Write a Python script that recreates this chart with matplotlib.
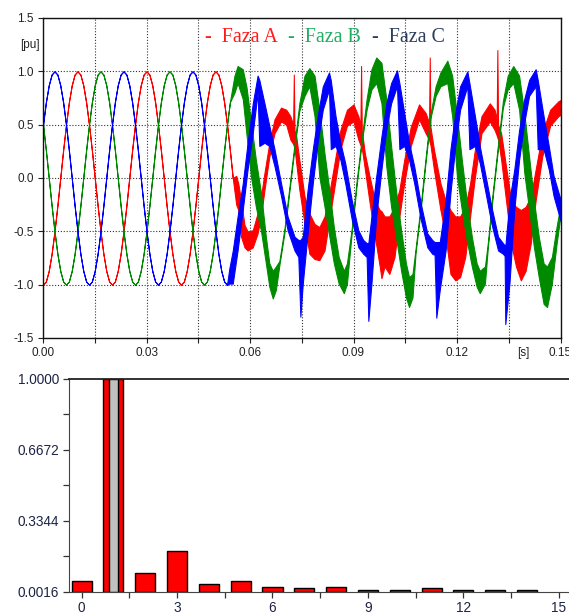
import numpy as np
import matplotlib
matplotlib.use("Agg")
import matplotlib.pyplot as plt
from matplotlib.transforms import blended_transform_factory

plt.rcParams['font.family'] = ['Liberation Sans', 'DejaVu Sans']
plt.rcParams['axes.unicode_minus'] = False

# ---------------- top chart data ----------------
# undistorted part, one value every 1/1200 s from t = 0
red_clean = [-1.00, -0.97, -0.87, -0.71, -0.50, -0.26, 0.00, 0.26, 0.50, 0.71, 0.87, 0.97,
             1.00, 0.97, 0.87, 0.71, 0.50, 0.26, 0.00, -0.26, -0.50, -0.71, -0.87, -0.97,
             -1.00, -0.97, -0.87, -0.71, -0.50, -0.26, 0.00, 0.26, 0.50, 0.71, 0.87, 0.97,
             1.00, 0.97, 0.87, 0.71, 0.50, 0.26, 0.00, -0.26, -0.50, -0.71, -0.87, -0.97,
             -1.00, -0.97, -0.87, -0.71, -0.50, -0.26, 0.00, 0.26, 0.50, 0.71, 0.87, 0.97,
             1.00, 0.97, 0.87, 0.71, 0.50, 0.26, 0.00]
green_clean = [0.50, 0.26, 0.00, -0.26, -0.50, -0.71, -0.87, -0.97, -1.00, -0.97, -0.87, -0.71,
               -0.50, -0.26, 0.00, 0.26, 0.50, 0.71, 0.87, 0.97, 1.00, 0.97, 0.87, 0.71,
               0.50, 0.26, 0.00, -0.26, -0.50, -0.71, -0.87, -0.97, -1.00, -0.97, -0.87, -0.71,
               -0.50, -0.26, 0.00, 0.26, 0.50, 0.71, 0.87, 0.97, 1.00, 0.97, 0.87, 0.71,
               0.50, 0.26, 0.00, -0.26, -0.50, -0.71, -0.87, -0.97, -1.00, -0.97, -0.87, -0.71,
               -0.50, -0.26, 0.00, 0.26, 0.50, 0.71]
blue_clean = [0.50, 0.71, 0.87, 0.97, 1.00, 0.97, 0.87, 0.71, 0.50, 0.26, 0.00, -0.26,
              -0.50, -0.71, -0.87, -0.97, -1.00, -0.97, -0.87, -0.71, -0.50, -0.26, 0.00, 0.26,
              0.50, 0.71, 0.87, 0.97, 1.00, 0.97, 0.87, 0.71, 0.50, 0.26, 0.00, -0.26,
              -0.50, -0.71, -0.87, -0.97, -1.00, -0.97, -0.87, -0.71, -0.50, -0.26, 0.00, 0.26,
              0.50, 0.71, 0.87, 0.97, 1.00, 0.97, 0.87, 0.71, 0.50, 0.26, 0.00, -0.26,
              -0.50, -0.71, -0.87, -0.97, -1.00]

# distorted part: time [s], lower and upper envelope of the noisy band [pu]
red_t = [0.0560, 0.0566, 0.0574, 0.0584, 0.0593, 0.0608, 0.0622, 0.0632, 0.0642, 0.0656,
         0.0671, 0.0690, 0.0705, 0.0717, 0.0725, 0.0727, 0.0729, 0.0734, 0.0743, 0.0758,
         0.0772, 0.0787, 0.0801, 0.0816, 0.0830, 0.0848, 0.0862, 0.0881, 0.0900, 0.0914,
         0.0920, 0.0922, 0.0924, 0.0933, 0.0947, 0.0962, 0.0976, 0.0981, 0.0990, 0.1004,
         0.1019, 0.1033, 0.1047, 0.1066, 0.1090, 0.1109, 0.1119, 0.1121, 0.1123, 0.1133,
         0.1152, 0.1167, 0.1181, 0.1195, 0.1209, 0.1224, 0.1238, 0.1252, 0.1271, 0.1295,
         0.1309, 0.1315, 0.1317, 0.1319, 0.1328, 0.1342, 0.1357, 0.1371, 0.1385, 0.1399,
         0.1414, 0.1428, 0.1447, 0.1470, 0.1494, 0.1500]
red_lo = [-0.25, -0.30, -0.55, -0.65, -0.68, -0.65, -0.52, -0.36, -0.11, 0.20,
          0.42, 0.53, 0.50, 0.36, 0.32, 0.30, 0.28, 0.14, -0.11, -0.43,
          -0.71, -0.76, -0.77, -0.68, -0.39, -0.02, 0.27, 0.49, 0.53, 0.36,
          0.31, 0.30, 0.28, 0.08, -0.24, -0.55, -0.83, -0.94, -0.83, -0.90,
          -0.74, -0.36, -0.05, 0.30, 0.55, 0.42, 0.36, 0.33, 0.31, 0.08,
          -0.30, -0.55, -0.90, -0.96, -0.93, -0.74, -0.36, 0.01, 0.42, 0.53,
          0.45, 0.40, 0.38, 0.36, 0.17, -0.21, -0.62, -0.83, -0.96, -0.87,
          -0.61, -0.21, 0.20, 0.49, 0.58, 0.59]
red_hi = [0.02, -0.05, -0.21, -0.44, -0.50, -0.49, -0.33, -0.17, 0.05, 0.33,
          0.55, 0.66, 0.64, 0.58, 0.50, 0.97, 0.45, 0.39, 0.17, -0.17,
          -0.33, -0.43, -0.46, -0.36, -0.14, 0.20, 0.45, 0.64, 0.69, 0.58,
          0.50, 1.05, 0.45, 0.23, 0.01, -0.21, -0.30, -0.31, -0.36, -0.36,
          -0.27, -0.11, 0.17, 0.48, 0.69, 0.61, 0.52, 1.13, 0.48, 0.27,
          -0.05, -0.21, -0.30, -0.36, -0.36, -0.27, -0.05, 0.27, 0.58, 0.70,
          0.64, 0.55, 1.20, 0.50, 0.42, 0.11, -0.21, -0.27, -0.30, -0.27,
          -0.17, 0.08, 0.42, 0.64, 0.72, 0.73]

green_t = [0.0555, 0.0564, 0.0579, 0.0590, 0.0603, 0.0617, 0.0632, 0.0646, 0.0656, 0.0666,
           0.0675, 0.0685, 0.0700, 0.0714, 0.0729, 0.0743, 0.0758, 0.0772, 0.0787, 0.0801,
           0.0816, 0.0830, 0.0843, 0.0857, 0.0872, 0.0881, 0.0895, 0.0909, 0.0924, 0.0938,
           0.0952, 0.0966, 0.0981, 0.0995, 0.1009, 0.1023, 0.1038, 0.1052, 0.1061, 0.1071,
           0.1080, 0.1095, 0.1109, 0.1123, 0.1138, 0.1152, 0.1172, 0.1186, 0.1200, 0.1214,
           0.1228, 0.1243, 0.1257, 0.1266, 0.1281, 0.1290, 0.1304, 0.1319, 0.1333, 0.1347,
           0.1363, 0.1380, 0.1395, 0.1409, 0.1423, 0.1437, 0.1451, 0.1461, 0.1475, 0.1489,
           0.1500]
green_lo = [0.80, 0.89, 0.74, 0.40, 0.01, -0.27, -0.50, -0.80, -1.02, -1.13,
            -1.05, -0.82, -0.51, -0.13, 0.28, 0.63, 0.77, 0.86, 0.58, 0.01,
            -0.27, -0.55, -0.80, -0.99, -1.08, -0.99, -0.51, -0.07, 0.34, 0.64,
            0.83, 0.89, 0.70, 0.11, -0.27, -0.55, -0.87, -1.12, -1.21, -1.12,
            -0.70, -0.29, 0.15, 0.56, 0.77, 0.86, 0.89, 0.58, 0.01, -0.30,
            -0.58, -0.83, -1.02, -1.08, -0.99, -0.63, -0.16, 0.28, 0.66, 0.83,
            0.89, 0.64, 0.05, -0.30, -0.65, -0.93, -1.18, -1.21, -0.99, -0.61,
            -0.35]
green_hi = [0.96, 1.05, 1.02, 0.85, 0.52, 0.17, -0.14, -0.55, -0.80, -0.87,
            -0.83, -0.78, -0.47, -0.09, 0.32, 0.70, 0.96, 1.03, 0.96, 0.64,
            0.23, -0.11, -0.46, -0.74, -0.87, -0.80, -0.47, -0.03, 0.38, 0.74,
            1.02, 1.13, 1.08, 0.74, 0.30, -0.11, -0.49, -0.80, -0.93, -0.90,
            -0.66, -0.25, 0.19, 0.60, 0.86, 0.99, 1.10, 0.96, 0.58, 0.17,
            -0.21, -0.55, -0.80, -0.87, -0.83, -0.59, -0.12, 0.32, 0.72, 0.96,
            1.05, 0.96, 0.61, 0.20, -0.21, -0.55, -0.80, -0.83, -0.74, -0.45,
            -0.25]

blue_t = [0.0540, 0.0550, 0.0564, 0.0579, 0.0593, 0.0608, 0.0622, 0.0627, 0.0642, 0.0656,
          0.0671, 0.0690, 0.0709, 0.0729, 0.0740, 0.0746, 0.0753, 0.0767, 0.0782, 0.0796,
          0.0811, 0.0829, 0.0834, 0.0848, 0.0862, 0.0876, 0.0895, 0.0914, 0.0928, 0.0938,
          0.0943, 0.0952, 0.0966, 0.0981, 0.0995, 0.1009, 0.1026, 0.1033, 0.1047, 0.1061,
          0.1076, 0.1095, 0.1114, 0.1128, 0.1135, 0.1140, 0.1150, 0.1167, 0.1181, 0.1195,
          0.1209, 0.1230, 0.1236, 0.1252, 0.1266, 0.1281, 0.1300, 0.1319, 0.1333, 0.1338,
          0.1340, 0.1352, 0.1366, 0.1380, 0.1395, 0.1409, 0.1428, 0.1434, 0.1451, 0.1466,
          0.1480, 0.1500]
blue_lo = [-0.99, -0.99, -0.68, -0.30, 0.08, 0.42, 0.80, 0.30, 0.33, 0.30,
           0.11, -0.17, -0.49, -0.68, -0.74, -1.30, -0.99, -0.52, -0.05, 0.33,
           0.64, 0.83, 0.27, 0.30, 0.17, -0.05, -0.39, -0.65, -0.71, -0.74,
           -1.34, -0.99, -0.36, 0.08, 0.45, 0.70, 0.86, 0.27, 0.30, 0.17,
           -0.05, -0.39, -0.65, -0.71, -0.72, -1.31, -1.05, -0.68, -0.14, 0.30,
           0.64, 0.86, 0.27, 0.30, 0.14, -0.11, -0.43, -0.68, -0.71, -0.73,
           -1.37, -0.99, -0.30, 0.17, 0.52, 0.77, 0.86, 0.27, 0.27, 0.08,
           -0.17, -0.40]
blue_hi = [-0.85, -0.68, -0.36, -0.05, 0.33, 0.70, 0.96, 0.92, 0.70, 0.49,
           0.27, -0.05, -0.36, -0.55, -0.58, -0.58, -0.55, -0.11, 0.27, 0.58,
           0.86, 0.99, 0.92, 0.58, 0.33, 0.14, -0.21, -0.49, -0.58, -0.61,
           -0.61, -0.36, 0.02, 0.39, 0.70, 0.89, 1.01, 0.89, 0.61, 0.33,
           0.11, -0.24, -0.52, -0.58, -0.60, -0.60, -0.60, -0.21, 0.27, 0.61,
           0.86, 1.00, 0.89, 0.58, 0.30, 0.05, -0.27, -0.55, -0.61, -0.63,
           -0.64, -0.21, 0.08, 0.45, 0.74, 0.92, 1.02, 0.92, 0.58, 0.30,
           0.02, -0.20]

x_tick_labels = ['0.00', '', '0.03', '', '0.06', '', '0.09', '', '0.12', '', '0.15']
y_tick_values = [-1.5, -1.0, -0.5, 0.0, 0.5, 1.0, 1.5]
y_tick_labels = ['-1.5', '-1.0', '-0.5', '0.0', '0.5', '1.0', '1.5']
legend_labels = ['Faza A', 'Faza B', 'Faza C']

# ---------------- bottom chart data ----------------
harmonics = list(range(15))
harm_values = [0.050, 1.000, 0.090, 0.190, 0.037, 0.050, 0.025, 0.017,
               0.025, 0.010, 0.010, 0.017, 0.010, 0.010, 0.010]
fund_gray = 1.000
hx_tick_labels = ['0', '', '3', '', '6', '', '9', '', '12', '', '15']
hy_tick_values = [0.0016, 0.1680, 0.3344, 0.5008, 0.6672, 0.8336, 1.0000]
hy_tick_labels = ['0.0016', '', '0.3344', '', '0.6672', '', '1.0000']

# ---------------- figure ----------------
W, H = 569, 615
fig = plt.figure(figsize=(W / 100, H / 100), dpi=100)


def rect(l, t, r, b):
    return [l / W, 1 - b / H, (r - l) / W, (b - t) / H]


ax1 = fig.add_axes(rect(43, 18, 560.5, 338))
ax1.set_xlim(0, 0.15)
ax1.set_ylim(-1.5, 1.5)

phases = [
    (red_clean, red_t, red_lo, red_hi, '#ff0000'),
    (green_clean, green_t, green_lo, green_hi, '#008a00'),
    (blue_clean, blue_t, blue_lo, blue_hi, '#0000ff'),
]
for clean, tn, lo, hi, col in phases:
    t_all = np.concatenate([np.arange(len(clean)) / 1200.0, tn])
    lo_all = np.concatenate([clean, lo])
    hi_all = np.concatenate([clean, hi])
    ax1.fill_between(t_all, lo_all, hi_all, facecolor=col, edgecolor=col,
                     linewidth=0.75, zorder=3)

ax1.set_xticks(np.arange(11) * 0.015)
ax1.set_xticklabels(x_tick_labels)
ax1.set_yticks(y_tick_values)
ax1.set_yticklabels(y_tick_labels)
ax1.tick_params(direction='out', length=3.5, width=0.8, labelsize=8.5,
                color='#222222', labelcolor='#222222', pad=3)
ax1.grid(True, color='#333333', linestyle=(0, (1, 1.6)), linewidth=0.8, zorder=1)
ax1.set_axisbelow(True)
for s in ax1.spines.values():
    s.set_linewidth(1.0)
    s.set_color('#111111')
    s.set_zorder(4)

tr_y = blended_transform_factory(ax1.transAxes, ax1.transData)
ax1.text(-0.006, 1.25, '[pu]', transform=tr_y, ha='right', va='center',
         fontsize=8.5, color='#222222')
tr_x = blended_transform_factory(ax1.transData, ax1.transAxes)
ax1.text(0.1393, -0.0285, '[s]', transform=tr_x, ha='center', va='top',
         fontsize=8.5, color='#222222')

leg_x = [205, 288.5, 372.5]
leg_col = ['#ff1a1a', '#1fae62', '#2c3e5c']
for lab, lx, lc in zip(legend_labels, leg_x, leg_col):
    fig.text(lx / W, 1 - 42.3 / H, '-  ' + lab, color=lc, ha='left',
             va='baseline', fontsize=14.4, family=['Liberation Serif', 'DejaVu Serif'])

# ---------------- bottom chart ----------------
ax2 = fig.add_axes(rect(69, 378.5, 580, 591.5))
ax2.set_xlim(-0.396, 15.666)
ax2.set_ylim(0.0016, 1.0)
ax2.bar(harmonics, harm_values, width=0.63, color='#ff0000', edgecolor='black',
        linewidth=1.0, zorder=2)
ax2.bar([1], [fund_gray], width=0.29, color='#c0c0c0', edgecolor='black',
        linewidth=1.0, zorder=3)
ax2.set_xticks(np.arange(11) * 1.5)
ax2.set_xticklabels(hx_tick_labels)
ax2.set_yticks(hy_tick_values)
ax2.set_yticklabels(hy_tick_labels)
ax2.tick_params(direction='out', length=4, width=0.9, labelsize=9.8,
                color='#333333', labelcolor='#1c2444', pad=3)
ax2.spines['right'].set_visible(False)
ax2.spines['top'].set_linewidth(1.3)
ax2.spines['top'].set_color('#222222')
ax2.spines['left'].set_color('#444444')
ax2.spines['bottom'].set_color('#444444')
for s in ax2.spines.values():
    s.set_zorder(4)

fig.savefig('out.png', dpi=100)
